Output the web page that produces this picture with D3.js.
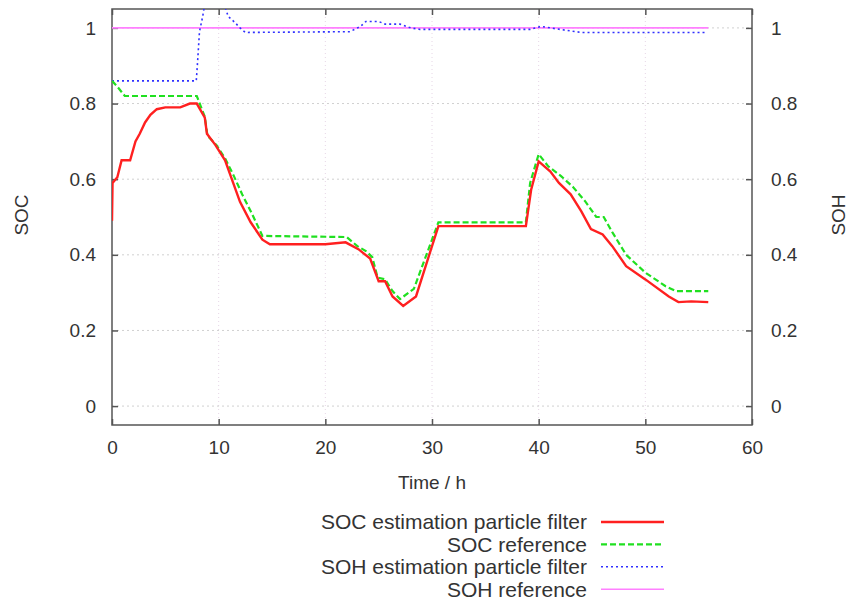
<!DOCTYPE html>
<html>
<head>
<meta charset="utf-8">
<script src="https://cdn.jsdelivr.net/npm/d3@7"></script>
<style>
  body { margin: 0; background: #fff; }
  text { font-family: "Liberation Sans", Arial, sans-serif; fill: #333; }
</style>
</head>
<body>
<div class="chart"></div>
<script>
// Time / h, value pairs
var socEstimate = [
  [0, 0.49], [0.05, 0.59], [0.5, 0.605], [0.9, 0.65], [1.7, 0.65], [2.2, 0.70],
  [2.6, 0.72], [3.1, 0.75], [3.6, 0.77], [4.2, 0.785], [5, 0.79], [6.4, 0.79],
  [7.3, 0.80], [7.95, 0.80], [8.7, 0.763], [8.9, 0.72], [9.7, 0.69], [10.6, 0.65],
  [11.3, 0.595], [12, 0.54], [13, 0.486], [14.1, 0.44], [14.8, 0.428], [20, 0.428],
  [21.9, 0.433], [23.1, 0.415], [24.2, 0.39], [25, 0.33], [25.6, 0.33], [26.3, 0.29],
  [27.3, 0.265], [28.5, 0.29], [30.6, 0.476], [38.8, 0.476], [39.3, 0.573],
  [40, 0.647], [41.1, 0.62], [41.9, 0.59], [43, 0.56], [44, 0.515], [44.9, 0.468],
  [46, 0.454], [46.9, 0.423], [48.2, 0.37], [50, 0.335], [52.2, 0.29], [53.1, 0.275],
  [54.3, 0.277], [55.9, 0.275]
];

var socReference = [
  [0, 0.86], [0.55, 0.843], [1.2, 0.82], [7.95, 0.82], [8.7, 0.765], [8.95, 0.715],
  [9.8, 0.69], [10.6, 0.655], [11.4, 0.61], [12.2, 0.56], [13.1, 0.51], [14.1, 0.45],
  [22, 0.447], [23, 0.423], [23.8, 0.41], [24.4, 0.394], [24.9, 0.34], [25.6, 0.335],
  [26.3, 0.304], [27, 0.283], [28.3, 0.31], [30.6, 0.486], [38.8, 0.486],
  [39.2, 0.59], [40, 0.666], [40.9, 0.634], [42.1, 0.608], [43.2, 0.58], [44.4, 0.54],
  [45.4, 0.50], [46.1, 0.50], [46.9, 0.46], [48.2, 0.40], [50, 0.353], [51.9, 0.317],
  [52.9, 0.304], [55.9, 0.304]
];

var sohEstimate = [
  [0, 0.86], [7.9, 0.86], [8.0, 0.90], [8.2, 0.99], [8.5, 1.03], [8.8, 1.08],
  [10.3, 1.08], [10.9, 1.03], [11.5, 1.015], [12, 1.0], [12.5, 0.988], [22.3, 0.99],
  [23.3, 1.004], [23.8, 1.017], [25, 1.017], [25.6, 1.01], [27, 1.01], [28, 1.0],
  [28.9, 0.996], [39.2, 0.996], [40.2, 1.004], [42, 0.996], [44, 0.988], [55.8, 0.988]
];

var sohReference = [[0, 1.0], [55.9, 1.0]];

var xTicks = [0, 10, 20, 30, 40, 50, 60];
var yTicks = [0, 0.2, 0.4, 0.6, 0.8, 1];

var legendLabels = [
  "SOC estimation particle filter",
  "SOC reference",
  "SOH estimation particle filter",
  "SOH reference"
];

// layout
var width = 854, height = 602;
var plot = { left: 112, right: 752, top: 9, bottom: 425 };

var svg = d3.select(".chart").append("svg")
    .attr("width", width)
    .attr("height", height);

var x = d3.scaleLinear().domain([0, 60]).range([plot.left, plot.right]);
var y = d3.scaleLinear().domain([-0.05, 1.05]).range([plot.bottom, plot.top]);

// grid
svg.append("g").selectAll("line").data(xTicks.slice(1, -1)).join("line")
    .attr("x1", d => x(d)).attr("x2", d => x(d))
    .attr("y1", plot.top).attr("y2", plot.bottom)
    .attr("stroke", "#e6d6e6").attr("stroke-dasharray", "1,3");
svg.append("g").selectAll("line").data(yTicks).join("line")
    .attr("x1", plot.left).attr("x2", plot.right)
    .attr("y1", d => y(d)).attr("y2", d => y(d))
    .attr("stroke", "#d0d0d0").attr("stroke-dasharray", "2,3");

// axes with inward ticks, mirrored
function styleAxis(g) {
  g.select(".domain").remove();
  g.selectAll(".tick line").attr("stroke", "#555").attr("stroke-width", 1.5);
  g.selectAll(".tick text").style("font-size", "19px").attr("fill", "#333");
}
svg.append("g").attr("transform", `translate(0,${plot.bottom})`)
    .call(d3.axisBottom(x).tickValues(xTicks).tickSizeInner(-6).tickPadding(16).tickFormat(d3.format("d")))
    .call(styleAxis);
svg.append("g").attr("transform", `translate(0,${plot.top})`)
    .call(d3.axisTop(x).tickValues(xTicks).tickSizeInner(-6).tickFormat(""))
    .call(styleAxis);
svg.append("g").attr("transform", `translate(${plot.left},0)`)
    .call(d3.axisLeft(y).tickValues(yTicks).tickSizeInner(-6).tickPadding(16).tickFormat(d3.format("~g")))
    .call(styleAxis);
svg.append("g").attr("transform", `translate(${plot.right},0)`)
    .call(d3.axisRight(y).tickValues(yTicks).tickSizeInner(-6).tickPadding(19).tickFormat(d3.format("~g")))
    .call(styleAxis);

// border
svg.append("rect")
    .attr("x", plot.left).attr("y", plot.top)
    .attr("width", plot.right - plot.left).attr("height", plot.bottom - plot.top)
    .attr("fill", "none").attr("stroke", "#555").attr("stroke-width", 1.5);

// axis titles
svg.append("text").attr("x", (plot.left + plot.right) / 2).attr("y", 489)
    .attr("text-anchor", "middle").style("font-size", "19px").text("Time / h");
svg.append("text").attr("transform", "translate(28,215) rotate(-90)")
    .attr("text-anchor", "middle").style("font-size", "19px").text("SOC");
svg.append("text").attr("transform", "translate(845,215) rotate(-90)")
    .attr("text-anchor", "middle").style("font-size", "19px").text("SOH");

// series
var styles = [
  { data: socEstimate,  color: "#ff2020", width: 2.4, dash: null },
  { data: socReference, color: "#20e020", width: 2.2, dash: "6,3" },
  { data: sohEstimate,  color: "#3030ff", width: 1.6, dash: "2,3" },
  { data: sohReference, color: "#ff80ff", width: 1.6, dash: null }
];

svg.append("clipPath").attr("id", "clip").append("rect")
    .attr("x", plot.left).attr("y", plot.top)
    .attr("width", plot.right - plot.left).attr("height", plot.bottom - plot.top);

var line = d3.line().x(d => x(d[0])).y(d => y(d[1]));

var plotArea = svg.append("g").attr("clip-path", "url(#clip)");
[3, 2, 1, 0].forEach(function(i) {
  var s = styles[i];
  plotArea.append("path")
      .attr("d", line(s.data))
      .attr("fill", "none")
      .attr("stroke", s.color)
      .attr("stroke-width", s.width)
      .attr("stroke-dasharray", s.dash);
});

// legend
var legend = svg.append("g").selectAll("g").data(legendLabels).join("g")
    .attr("transform", (d, i) => `translate(0,${522 + i * 22.4})`);
legend.append("text")
    .attr("x", 587).attr("dy", "0.35em")
    .attr("text-anchor", "end").style("font-size", "21px")
    .text(d => d);
legend.append("line")
    .attr("x1", 601).attr("x2", 664)
    .attr("stroke", (d, i) => styles[i].color)
    .attr("stroke-width", (d, i) => styles[i].width)
    .attr("stroke-dasharray", (d, i) => styles[i].dash);
</script>
</body>
</html>
